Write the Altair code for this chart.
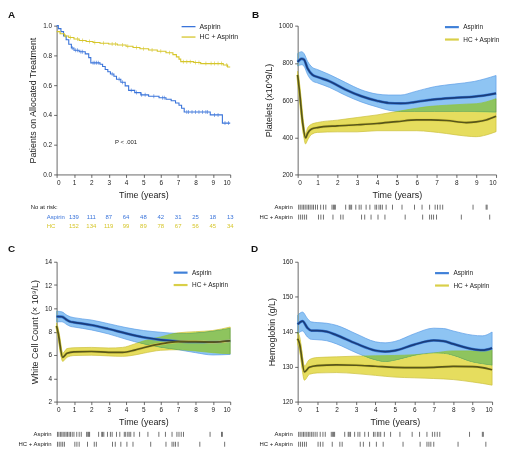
import altair as alt
import pandas as pd

# ---------------- data ----------------
groups = ["Aspirin", "HC + Aspirin"]
letters = ["A", "B", "C", "D"]

# Panel A: Kaplan-Meier (patients on allocated treatment)
km_asp_t = [0, 0.1, 0.25, 0.4, 0.55, 0.7, 0.85, 1.0, 1.3, 1.65, 1.85, 1.97, 2.5, 2.65, 2.8, 2.95, 3.1, 3.3,
            3.45, 3.7, 3.95, 4.15, 4.5, 4.85, 5.3, 5.9, 6.3, 6.6, 6.85, 7.05, 7.2, 7.35, 8.85, 9.55, 10.0]
km_asp_s = [1.0, 0.98, 0.96, 0.93, 0.905, 0.875, 0.85, 0.835, 0.825, 0.81, 0.785, 0.75, 0.74, 0.725, 0.705,
            0.69, 0.675, 0.66, 0.64, 0.62, 0.595, 0.565, 0.55, 0.535, 0.525, 0.515, 0.505, 0.495, 0.48, 0.465,
            0.445, 0.42, 0.40, 0.345, 0.345]
km_hc_t = [0, 0.2, 0.45, 0.7, 1.0, 1.3, 1.7, 2.1, 2.5, 3.0, 3.5, 4.0, 4.4, 4.8, 5.3, 5.8, 6.3, 6.7, 6.9,
           7.05, 7.15, 7.9, 8.3, 9.6, 9.85, 10.0]
km_hc_s = [0.96, 0.945, 0.93, 0.92, 0.91, 0.90, 0.893, 0.887, 0.882, 0.877, 0.87, 0.862, 0.853, 0.845, 0.836,
           0.828, 0.818, 0.805, 0.79, 0.775, 0.758, 0.752, 0.745, 0.735, 0.722, 0.722]
cens_asp_t = [0.9, 1.1, 1.2, 1.4, 1.5, 2.1, 2.2, 2.3, 2.4, 3.2, 3.6, 3.8, 4.3, 4.6, 4.9, 5.1, 5.6, 6.1, 6.2,
              7.5, 7.6, 7.8, 8.0, 8.2, 8.4, 8.6, 8.7, 9.1, 9.3, 9.7, 9.9]
cens_hc_t = [0.5, 0.8, 1.2, 1.5, 1.9, 2.2, 2.7, 3.2, 3.4, 3.8, 4.1, 4.6, 5.0, 5.5, 6.0, 6.5, 7.3, 7.5, 7.7,
             8.0, 8.2, 8.6, 8.9, 9.1, 9.3, 9.5, 9.8]
risk_times = [1, 2, 3, 4, 5, 6, 7, 8, 9, 10]
risk_asp = [139, 111, 87, 64, 48, 42, 31, 25, 18, 13]
risk_hc = [152, 134, 119, 99, 89, 78, 67, 56, 45, 34]
p_text = "P < .001"
p_t, p_s = 4.0, 0.22

# Panel B: platelets
b_asp_t = [0, 0.2, 0.32, 0.5, 0.75, 1.0, 1.6, 2.4, 3.2, 4.0, 4.6, 5.2, 5.9, 6.9, 7.9, 8.9, 10]
b_asp_m = [805, 822, 817, 770, 735, 724, 701, 657, 621, 596, 584, 582, 589, 604, 612, 618, 636]
b_asp_hi = [850, 860, 850, 808, 775, 764, 737, 695, 655, 632, 627, 627, 645, 672, 686, 700, 732]
b_asp_lo = [783, 790, 782, 737, 702, 692, 668, 626, 590, 563, 545, 538, 538, 538, 538, 537, 535]
b_hc_t = [0, 0.1, 0.25, 0.4, 0.5, 0.7, 1.0, 2.0, 3.0, 4.0, 5.0, 6.0, 6.7, 7.5, 8.5, 9.0, 9.5, 10]
b_hc_m = [735, 640, 480, 396, 420, 444, 452, 461, 467, 474, 484, 493, 493, 490, 479, 483, 493, 513]
b_hc_hi = [755, 665, 505, 417, 450, 470, 479, 492, 506, 520, 538, 556, 566, 572, 578, 580, 590, 607]
b_hc_lo = [715, 615, 455, 364, 385, 415, 426, 429, 429, 435, 435, 435, 430, 420, 406, 403, 412, 430]

# Panel C: white cell count
c_asp_t = [0, 0.3, 0.6, 0.8, 1.0, 2.0, 3.0, 4.0, 5.0, 6.0, 7.0, 8.0, 9.0, 10]
c_asp_m = [9.3, 9.28, 9.0, 8.85, 8.8, 8.57, 8.23, 7.85, 7.52, 7.3, 7.17, 7.12, 7.1, 7.22]
c_asp_hi = [9.75, 9.7, 9.4, 9.27, 9.2, 9.0, 8.68, 8.35, 8.1, 7.95, 7.85, 7.9, 8.05, 8.3]
c_asp_lo = [8.85, 8.85, 8.6, 8.45, 8.4, 8.15, 7.8, 7.35, 6.95, 6.65, 6.45, 6.2, 6.0, 6.05]
c_hc_t = [0, 0.1, 0.35, 0.6, 1.0, 2.0, 3.0, 3.8, 4.5, 5.0, 6.0, 7.0, 8.0, 9.0, 10]
c_hc_m = [8.5, 7.8, 5.8, 6.15, 6.27, 6.3, 6.23, 6.22, 6.42, 6.62, 6.95, 7.15, 7.15, 7.1, 7.22]
c_hc_hi = [8.75, 8.1, 6.15, 6.55, 6.62, 6.65, 6.6, 6.65, 6.95, 7.2, 7.55, 7.9, 8.0, 8.1, 8.4]
c_hc_lo = [8.2, 7.5, 5.45, 5.8, 5.95, 5.98, 5.92, 5.88, 6.0, 6.15, 6.4, 6.45, 6.35, 6.2, 6.1]

# Panel D: hemoglobin
d_asp_t = [0, 0.25, 0.5, 0.7, 1.0, 1.5, 2.0, 3.0, 4.0, 4.5, 5.0, 6.0, 7.0, 7.5, 8.0, 9.0, 9.5, 10]
d_asp_m = [142.1, 143, 141.1, 140.3, 140.3, 140, 139, 136.6, 134.6, 134.3, 134.6, 136.3, 137.5, 137.3, 136.5,
           135, 134.7, 135.3]
d_asp_hi = [144.7, 145.6, 143.8, 142.8, 142.6, 142.4, 141.8, 139.4, 137.1, 136.8, 137.2, 139.4, 141.0, 140.9,
            140.2, 139, 138.8, 139.9]
d_asp_lo = [139.4, 140.2, 138.5, 137.8, 137.7, 137.4, 136.5, 134, 131.9, 131.4, 131.8, 133.2, 133.9, 133.8,
            133.2, 131.3, 130.8, 130.4]
d_hc_t = [0, 0.1, 0.35, 0.6, 1.0, 2.0, 3.0, 4.0, 5.0, 6.0, 7.0, 8.0, 9.0, 9.5, 10]
d_hc_m = [138, 136.5, 128.5, 129.8, 130.3, 130.5, 130.4, 130.1, 129.8, 129.7, 129.8, 130.1, 130, 129.7, 129.1]
d_hc_hi = [139.9, 138.6, 130.2, 132, 132.6, 132.8, 133, 133.1, 133.2, 133.4, 133.9, 134.5, 134.5, 134.6, 134.7]
d_hc_lo = [136.4, 134.6, 126.1, 127.8, 128.2, 128.3, 128, 127.5, 127, 126.8, 126.6, 126.3, 125.6, 125.2, 124.7]

# rug of measurement times
rug_asp = [0.05, 0.13, 0.22, 0.3, 0.38, 0.47, 0.55, 0.63, 0.72, 0.8, 0.9, 1.0, 1.16, 1.3, 1.42, 1.73, 1.8,
           1.85, 1.9, 2.42, 2.6, 2.65, 2.72, 2.93, 3.1, 3.2, 3.45, 3.64, 3.9, 3.98, 4.1, 4.18, 4.27, 4.46,
           4.78, 5.26, 5.89, 6.27, 6.65, 6.93, 7.05, 7.18, 7.31, 8.84, 9.5, 9.55]
rug_hc = [0.05, 0.15, 0.25, 0.35, 0.45, 1.05, 1.17, 1.3, 1.78, 2.17, 2.29, 3.22, 3.38, 3.7, 4.05, 4.4, 5.42,
          6.3, 6.65, 6.75, 6.85, 7.0, 8.25, 9.68]

# ---------------- styles ----------------
KM_COLORS = ["#3a74da", "#d6c62c"]
LEG_COLORS = ["#3f80d8", "#d9cf48"]
BAND_FILL = ["#8ec4f3", "#e6dd5e"]
BAND_EDGE = ["#5b9de6", "#cbbf3c"]
MEAN_DARK = ["#1a3d7c", "#58561a"]
FONT = "Liberation Sans"


def xenc():
    return alt.X("t:Q", scale=alt.Scale(domain=[0, 10], nice=False, zero=False),
                 axis=alt.Axis(values=list(range(11)), format="d", title="Time (years)"))


def one_row():
    return pd.DataFrame({"k": [0]})


def label(text, x, y, align="left", size=6.5, color="#222", weight="normal"):
    return alt.Chart(one_row()).mark_text(align=align, baseline="middle", fontSize=size, font=FONT,
                                          fontWeight=weight, color=color).encode(
        x=alt.value(x), y=alt.value(y), text=alt.value(text))


def step_at(ts, ss, x):
    v = ss[0]
    for t, s in zip(ts, ss):
        if t <= x:
            v = s
    return v


# ---------------- panel A ----------------
km_df = pd.DataFrame({
    "t": km_asp_t + km_hc_t,
    "s": km_asp_s + km_hc_s,
    "group": [groups[0]] * len(km_asp_t) + [groups[1]] * len(km_hc_t),
})
cens_df = pd.DataFrame({
    "t": cens_asp_t + cens_hc_t,
    "s": [step_at(km_asp_t, km_asp_s, x) for x in cens_asp_t] + [step_at(km_hc_t, km_hc_s, x) for x in cens_hc_t],
    "group": [groups[0]] * len(cens_asp_t) + [groups[1]] * len(cens_hc_t),
})
yA = alt.Y("s:Q", scale=alt.Scale(domain=[0, 1], nice=False),
           axis=alt.Axis(values=[0, 0.2, 0.4, 0.6, 0.8, 1.0], format=".1f", title="Patients on Allocated Treatment"))
colscaleA = alt.Scale(domain=groups, range=KM_COLORS)

a_lines = alt.Chart(km_df).mark_line(interpolate="step-after", strokeWidth=1.1).encode(
    x=xenc(), y=yA,
    color=alt.Color("group:N", scale=colscaleA,
                    legend=alt.Legend(title=None, orient="none", legendX=132, legendY=-3.5,
                                      symbolStrokeWidth=1.3)))
a_cens = alt.Chart(cens_df).mark_tick(orient="vertical", size=4, thickness=0.8).encode(
    x=xenc(), y=yA, color=alt.Color("group:N", scale=colscaleA, legend=None))
a_p = alt.Chart(pd.DataFrame({"t": [p_t], "s": [p_s], "lab": [p_text]})).mark_text(
    fontSize=6, font=FONT, color="#222").encode(x=xenc(), y=yA, text="lab:N")
a_risk1 = alt.Chart(pd.DataFrame({"t": risk_times, "n": risk_asp})).mark_text(
    fontSize=6, font=FONT, color=KM_COLORS[0], baseline="middle").encode(x=xenc(), y=alt.value(192.5), text="n:Q")
a_risk2 = alt.Chart(pd.DataFrame({"t": risk_times, "n": risk_hc})).mark_text(
    fontSize=6, font=FONT, color=KM_COLORS[1], baseline="middle").encode(x=xenc(), y=alt.value(202), text="n:Q")

panelA = alt.layer(
    a_lines, a_cens, a_p, a_risk1, a_risk2,
    label("No at risk:", -26, 182.5, size=6),
    label("Aspirin", -10, 192.5, size=6, color=KM_COLORS[0]),
    label("HC", -10, 202, size=6, color=KM_COLORS[1]),
    label(letters[0], -49, -11, size=10, color="#111", weight="bold"),
).properties(width=175, height=150)


# ---------------- panels B-D ----------------
def band_panel(asp, hc, ydom, yvals, ytitle, width, height, letter, legx, legy, rug_y, letter_x, letter_y):
    rows = []
    for g, (ts, ms, his, los) in zip(groups, [asp, hc]):
        for t, m, h, l in zip(ts, ms, his, los):
            rows.append({"t": t, "mean": m, "hi": h, "lo": l, "group": g})
    df = pd.DataFrame(rows)
    yscale = alt.Scale(domain=ydom, nice=False, zero=False)
    yax = alt.Axis(values=yvals, format="d", title=ytitle)

    layers = []
    for i, g in enumerate(groups):
        layers.append(alt.Chart(df).transform_filter(alt.datum.group == g).mark_area(
            interpolate="monotone", fill=BAND_FILL[i], stroke=BAND_EDGE[i], strokeWidth=0.7,
            blend="darken").encode(
            x=xenc(), y=alt.Y("lo:Q", scale=yscale, axis=yax), y2="hi:Q"))
    layers.append(alt.Chart(df).mark_line(interpolate="monotone", strokeWidth=2.8).encode(
        x=xenc(), y=alt.Y("mean:Q", scale=yscale, axis=yax),
        color=alt.Color("group:N", scale=alt.Scale(domain=groups, range=LEG_COLORS),
                        legend=alt.Legend(title=None, orient="none", legendX=legx, legendY=legy,
                                          symbolStrokeWidth=2.2, labelFontSize=6.5))))
    for i, g in enumerate(groups):
        layers.append(alt.Chart(df).transform_filter(alt.datum.group == g).mark_line(
            interpolate="monotone", strokeWidth=1.7, color=MEAN_DARK[i]).encode(
            x=xenc(), y=alt.Y("mean:Q", scale=yscale, axis=yax)))
    for r, rug in zip(rug_y, [rug_asp, rug_hc]):
        layers.append(alt.Chart(pd.DataFrame({"t": rug})).mark_rule(color="#333", strokeWidth=0.7).encode(
            x=xenc(), y=alt.value(r - 2.5), y2=alt.value(r + 2.5)))
    layers.append(label("Aspirin", -5, rug_y[0], align="right", size=6))
    layers.append(label("HC + Aspirin", -5, rug_y[1], align="right", size=6))
    layers.append(label(letter, letter_x, letter_y, size=10, color="#111", weight="bold"))
    return alt.layer(*layers).properties(width=width, height=height)


panelB = band_panel((b_asp_t, b_asp_m, b_asp_hi, b_asp_lo), (b_hc_t, b_hc_m, b_hc_hi, b_hc_lo),
                    [200, 1000], [200, 400, 600, 800, 1000], "Platelets (x10^9/L)", 200, 150, letters[1],
                    154, -3.5, [183, 193], -46, -11)
panelC = band_panel((c_asp_t, c_asp_m, c_asp_hi, c_asp_lo), (c_hc_t, c_hc_m, c_hc_hi, c_hc_lo),
                    [2, 14], [2, 4, 6, 8, 10, 12, 14], "White Cell Count (× 10⁹/L)", 175, 141, letters[2],
                    123.5, 6, [174, 184], -49, -13)
panelD = band_panel((d_asp_t, d_asp_m, d_asp_hi, d_asp_lo), (d_hc_t, d_hc_m, d_hc_hi, d_hc_lo),
                    [120, 160], [120, 130, 140, 150, 160], "Hemoglobin (g/L)", 196, 141, letters[3],
                    144, 6.5, [174, 184], -47, -13)

chart = alt.concat(panelA, panelB, panelC, panelD, columns=2).properties(
    bounds="flush", spacing={"row": 88, "column": 68}, padding=0, background="white"
).resolve_scale(color="independent").resolve_legend(color="independent").configure(
    font=FONT).configure_view(strokeWidth=0).configure_axis(
    labelFontSize=6.5, titleFontSize=9, tickSize=3, labelPadding=2, titlePadding=5,
    domainColor="#444", tickColor="#444", labelColor="#222", titleColor="#222", grid=False,
    titleFontWeight="normal", domainWidth=0.8, tickWidth=0.8, labelFont=FONT, titleFont=FONT
).configure_legend(
    labelFontSize=7, labelFont=FONT, labelColor="#222", symbolType="M-3,0H1", symbolSize=49,
    rowPadding=2.5, labelOffset=3, padding=0
)

chart.save("out.html", embed_options={"renderer": "svg", "actions": False})
